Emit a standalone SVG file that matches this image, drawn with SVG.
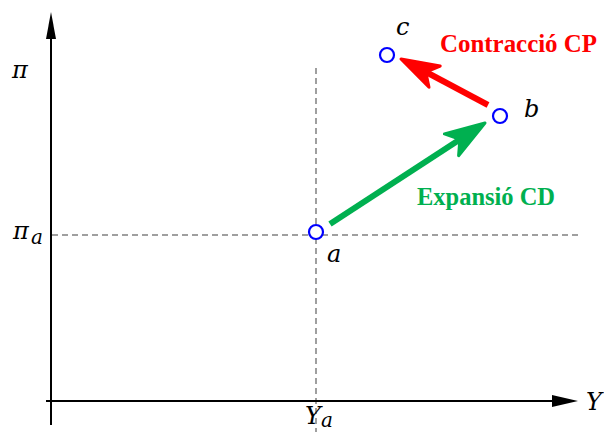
<svg xmlns="http://www.w3.org/2000/svg" width="604" height="432" viewBox="0 0 604 432">
<style>
.axis{stroke:#000;stroke-width:2;fill:none}
.dash{stroke:#808080;stroke-width:1.5;stroke-dasharray:6 4;fill:none}
.pt{fill:#fff;stroke:#0000ff;stroke-width:2.2}
.math{font-family:"DejaVu Serif","Liberation Serif",serif;font-style:italic;font-size:24px;fill:#000}
.sub{font-family:"DejaVu Serif","Liberation Serif",serif;font-style:italic;font-size:20px;fill:#000}
.lbl{font-family:"Liberation Serif","DejaVu Serif",serif;font-weight:bold;font-size:26px}
</style>
<rect width="604" height="432" fill="#fff"/>
<g id="guides">
<line class="dash" x1="316" y1="68" x2="316" y2="432"/>
<line class="dash" x1="52" y1="235" x2="582" y2="235"/>
</g>
<g id="axes">
<line class="axis" x1="51" y1="425" x2="51" y2="36"/>
<polygon points="51,12 46,39 56,39" fill="#000"/>
<line class="axis" x1="46" y1="401" x2="555" y2="401"/>
<polygon points="578,401 552,395 552,407" fill="#000"/>
<text class="math" x="12" y="78">π</text>
<text class="math" x="13" y="239">π</text><text class="sub" x="31" y="244">a</text>
<text class="math" x="586" y="410" font-size="26">Y</text>
<text class="math" x="305" y="424" font-size="24">Y</text><text class="sub" x="321" y="427" font-size="16">a</text>
</g>
<g id="connectors">
<g id="expansion">
<line x1="330" y1="224" x2="459" y2="140" stroke="#00b050" stroke-width="6"/>
<polygon points="485,123 458.6,155.7 459.9,139.4 444.4,133.9" fill="#00b050" stroke="#00b050" stroke-width="3" stroke-linejoin="round"/>
</g>
<g id="contraction">
<line x1="488" y1="105" x2="426" y2="72" stroke="#ff0000" stroke-width="6"/>
<polygon points="401,59 440.2,66.1 425.8,72.1 429,87.3" fill="#ff0000" stroke="#ff0000" stroke-width="3" stroke-linejoin="round"/>
</g>
<text class="lbl" x="417" y="205" fill="#00b050" textLength="138" lengthAdjust="spacingAndGlyphs">Expansió CD</text>
<text class="lbl" x="440" y="52" fill="#ff0000" textLength="157" lengthAdjust="spacingAndGlyphs">Contracció CP</text>
</g>
<g id="node-a">
<circle class="pt" cx="316" cy="232" r="7"/>
<text class="math" x="327" y="262">a</text>
</g>
<g id="node-b">
<circle class="pt" cx="500" cy="116" r="7"/>
<text class="math" x="524" y="117">b</text>
</g>
<g id="node-c">
<circle class="pt" cx="387" cy="55" r="7"/>
<text class="math" x="396" y="35">c</text>
</g>
</svg>
